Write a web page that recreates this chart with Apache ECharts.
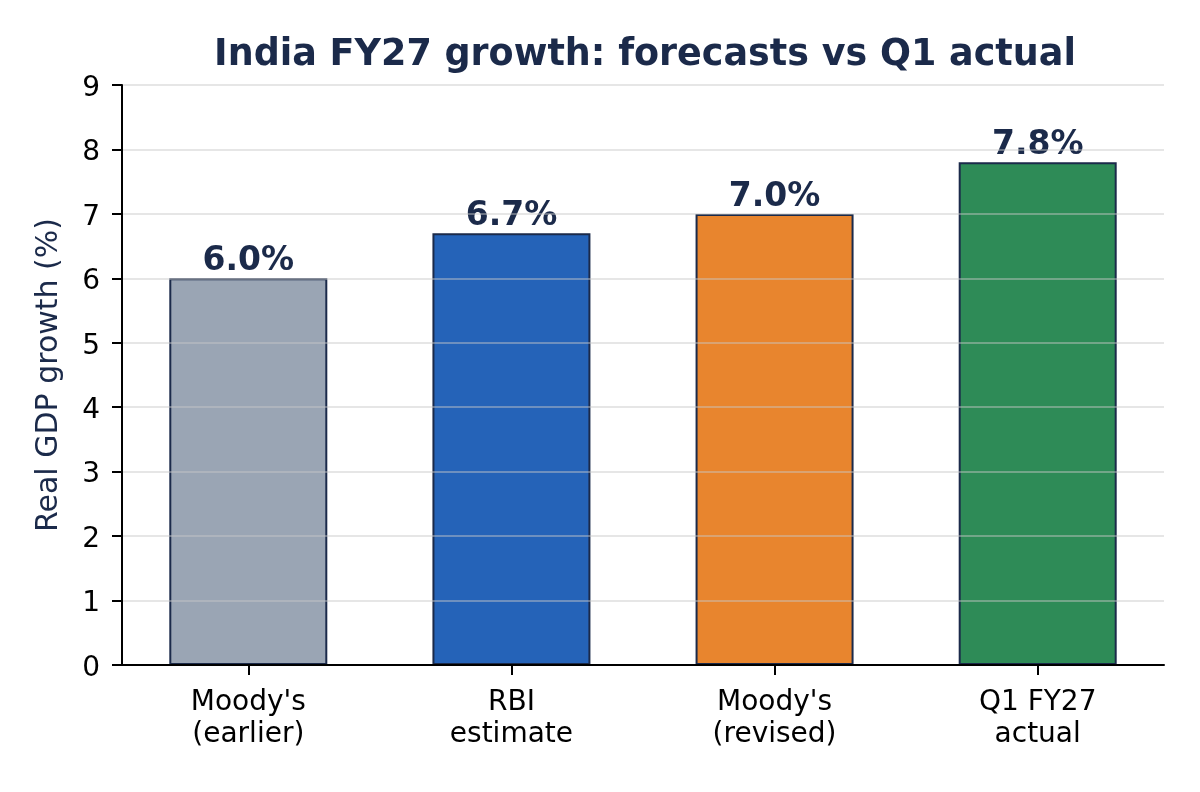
<!DOCTYPE html>
<html>
<head>
<meta charset="utf-8">
<script src="https://cdn.jsdelivr.net/npm/echarts@6/dist/echarts.min.js"></script>
<style>
html,body{margin:0;padding:0;background:#fff;}
#chart{width:1200px;height:792px;}
</style>
</head>
<body>
<div id="chart"></div>
<script>
const categories = ["Moody's\n(earlier)", "RBI\nestimate", "Moody's\n(revised)", "Q1 FY27\nactual"];
const values = [6.0, 6.7, 7.0, 7.8];
const barColors = ['#9aa5b4', '#2563b8', '#e8852e', '#2e8b57'];
const yTicks = [0, 1, 2, 3, 4, 5, 6, 7, 8, 9];

const chart = echarts.init(document.getElementById('chart'), null, {renderer: 'canvas'});
const FONT = 'DejaVu Sans';
const NAVY = '#1b2a4a';

const option = {
  backgroundColor: '#ffffff',
  animation: false,
  title: {
    text: 'India FY27 growth: forecasts vs Q1 actual',
    left: 640,
    textAlign: 'center',
    top: 32,
    textStyle: {fontFamily: FONT, fontSize: 36.5, fontWeight: 'bold', color: NAVY}
  },
  grid: {left: 122, right: 36, top: 85, bottom: 127, containLabel: false},
  xAxis: {
    type: 'value',
    min: -0.48,
    max: 3.48,
    z: 6,
    splitLine: {show: false},
    axisLine: {show: true, onZero: false, lineStyle: {color: '#000', width: 2}},
    axisTick: {show: true, customValues: categories.map((c, i) => i), length: 10, lineStyle: {color: '#000', width: 2}},
    axisLabel: {
      customValues: categories.map((c, i) => i),
      formatter: v => categories[Math.round(v)] || '',
      fontFamily: FONT, fontSize: 28, color: '#000', lineHeight: 32, margin: 22
    }
  },
  yAxis: {
    type: 'value',
    min: 0,
    max: 9,
    interval: 1,
    z: 5,
    name: 'Real GDP growth (%)',
    nameLocation: 'middle',
    nameRotate: 90,
    nameGap: 58,
    nameTextStyle: {fontFamily: FONT, fontSize: 30, color: NAVY},
    axisLine: {show: true, onZero: false, lineStyle: {color: '#000', width: 2}},
    axisTick: {show: true, length: 10, lineStyle: {color: '#000', width: 2}},
    axisLabel: {
      customValues: yTicks,
      formatter: v => '{t|' + v + '}',
      rich: {t: {fontFamily: FONT, fontSize: 28, color: '#000', padding: [7, 0, 0, 0]}},
      fontFamily: FONT, fontSize: 28, color: '#000', margin: 22
    },
    splitLine: {show: true, lineStyle: {color: 'rgba(200,200,200,0.45)', width: 2}}
  },
  series: [{
    type: 'bar',
    barWidth: 158,
    data: values.map((v, i) => ({
      value: [i, v],
      itemStyle: {color: barColors[i], borderColor: NAVY, borderWidth: 2}
    })),
    label: {
      show: true,
      position: 'top',
      distance: 0,
      formatter: p => p.value[1].toFixed(1) + '%',
      fontFamily: FONT, fontSize: 33, fontWeight: 'bold', color: NAVY
    }
  }]
};
chart.setOption(option);
</script>
</body>
</html>
